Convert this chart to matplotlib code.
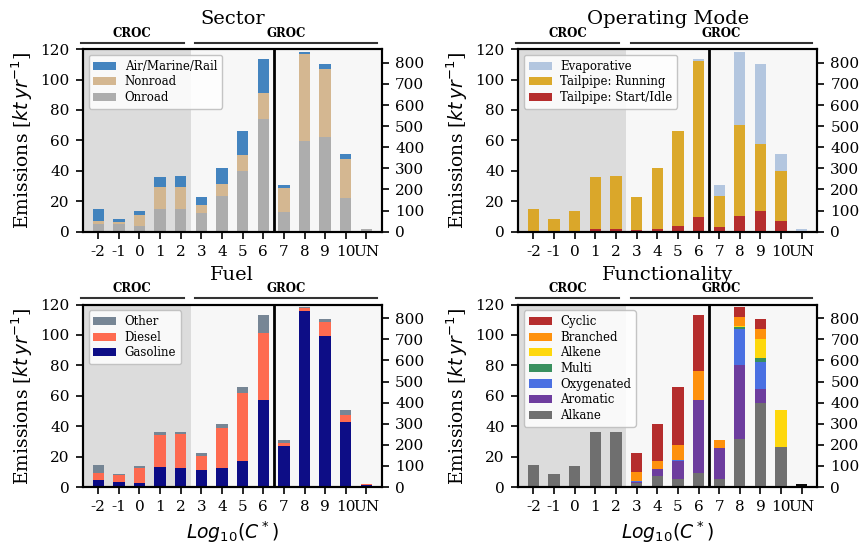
import matplotlib

matplotlib.use("Agg")

import matplotlib.pyplot as plt
import numpy as np

plt.rcParams["font.family"] = ["DejaVu Serif"]
plt.rcParams["mathtext.fontset"] = "dejavusans"

# x categories, log10(C*) bins; the first 9 go on the left axis, the rest on the right axis
tick_labels = ["-2", "-1", "0", "1", "2", "3", "4", "5", "6", "7", "8", "9", "10", "UN"]
n_left = 9

# Sector
onroad = [4.8, 5.0, 4.0, 15.1, 15.1, 12.1, 23.3, 40.1, 74.2, 92, 428, 447, 157, 10]
nonroad = [2.4, 1.1, 7.0, 14.3, 14.3, 5.7, 8.1, 10.1, 16.8, 114, 416, 323, 188, 3]
air_marine_rail = [7.5, 2.5, 2.8, 6.8, 7.0, 4.8, 10.3, 15.8, 22.2, 16, 8, 25, 22, 1]

# Operating mode
start_idle = [0.3, 0.2, 0.3, 1.5, 1.6, 1.0, 2.0, 4.0, 9.7, 24, 74, 97, 49, 0.5]
running = [14.4, 8.4, 13.5, 34.7, 34.8, 21.6, 39.7, 62.0, 102.2, 147, 433, 320, 239, 0.5]
evaporative = [0, 0, 0, 0, 0, 0, 0, 0, 1.5, 51, 345, 378, 79, 13]

# Fuel
gasoline = [4.4, 3.5, 2.6, 13.2, 12.5, 11.4, 12.7, 17.3, 57.0, 195, 833, 716, 306, 9]
diesel = [5.0, 4.2, 10.1, 21.0, 22.4, 8.8, 26.1, 44.6, 44.4, 15, 17, 67, 37, 5]
other_fuel = [5.3, 0.9, 1.1, 2.0, 1.5, 2.4, 2.9, 4.1, 11.8, 12, 2, 12, 24, 0]

# Functionality
alkane = [14.7, 8.6, 13.8, 36.2, 36.4, 2.4, 7.0, 5.5, 9.2, 36, 228, 399, 190, 0]
aromatic = [0, 0, 0, 0, 0, 1.1, 4.6, 11.8, 47.8, 148, 350, 67, 0, 0]
oxygenated = [0, 0, 0, 0, 0, 0.4, 0, 0.2, 0.3, 0, 173, 125, 0, 0]
multi = [0, 0, 0, 0, 0, 0, 0, 0, 0, 0, 9, 19, 0, 0]
alkene = [0, 0, 0, 0, 0, 0, 0, 0, 0, 0, 3, 93, 177, 0]
branched = [0, 0, 0, 0, 0, 6.0, 5.3, 9.9, 19.0, 38, 43, 45, 0, 0]
cyclic = [0, 0, 0, 0, 0, 12.7, 24.8, 38.6, 36.9, 0, 47, 47, 0, 0]
unknown = [0, 0, 0, 0, 0, 0, 0, 0, 0, 0, 0, 0, 0, 14]

panels = [
    ("Sector",
     [(onroad, "Onroad", "darkgray"),
      (nonroad, "Nonroad", "tan"),
      (air_marine_rail, "Air/Marine/Rail", "#3a7ebc")]),
    ("Operating Mode",
     [(start_idle, "Tailpipe: Start/Idle", "firebrick"),
      (running, "Tailpipe: Running", "goldenrod"),
      (evaporative, "Evaporative", "lightsteelblue")]),
    ("Fuel",
     [(gasoline, "Gasoline", "navy"),
      (diesel, "Diesel", "tomato"),
      (other_fuel, "Other", "slategray")]),
    ("Functionality",
     [(alkane, "Alkane", "dimgray"),
      (aromatic, "Aromatic", "rebeccapurple"),
      (oxygenated, "Oxygenated", "royalblue"),
      (multi, "Multi", "seagreen"),
      (alkene, "Alkene", "gold"),
      (branched, "Branched", "darkorange"),
      (cyclic, "Cyclic", "firebrick"),
      (unknown, None, "black")]),
]


def draw_panel(ax, title, series, xlabel):
    """Stacked bars, low volatility bins on the left axis and the rest on a twin axis"""
    x = np.arange(-2, -2 + len(tick_labels))
    ax2 = ax.twinx()
    ax.set_facecolor("#f7f7f7")
    ax.axvspan(-2.75, 2.5, color="#dcdcdc", zorder=0, lw=0)

    bottom = np.zeros(len(x))
    handles = []
    for values, label, color in series:
        vals = np.array(values, dtype=float)
        b1 = ax.bar(x[:n_left], vals[:n_left], 0.55, bottom=bottom[:n_left],
                    color=color, alpha=0.95, lw=0, zorder=2)
        ax2.bar(x[n_left:], vals[n_left:], 0.55, bottom=bottom[n_left:],
                color=color, alpha=0.95, lw=0, zorder=2)
        bottom += vals
        if label is not None:
            handles.append((b1, label))

    ax.axvline(6.5, color="black", lw=2, zorder=3)
    ax.set_xlim(-2.75, 11.75)
    ax.set_ylim(0, 120)
    ax.set_yticks(np.arange(0, 121, 20))
    ax2.set_ylim(0, 865)
    ax2.set_yticks(np.arange(0, 801, 100))
    ax.set_xticks(x)
    ax.set_xticklabels(tick_labels)
    for a in (ax, ax2):
        a.tick_params(labelsize=11, length=5, width=1.2, pad=4.5)
        for s in a.spines.values():
            s.set_linewidth(1.5)

    ax.set_title(title, fontsize=14, pad=18)
    ax.set_ylabel(r"Emissions [$kt\,yr^{-1}$]", fontsize=13.5)
    if xlabel:
        ax.set_xlabel(r"$Log_{10}(C^*)$", fontsize=13.5)

    h = [b for b, _ in handles][::-1]
    l = [lab for _, lab in handles][::-1]
    leg = ax.legend(h, l, loc="upper left", fontsize=8.5, framealpha=0.85,
                    handlelength=1.95, borderpad=0.4, labelspacing=0.22,
                    handletextpad=0.7)
    leg.get_frame().set_edgecolor("#bbbbbb")

    # CROC / GROC brackets above the axes
    for x0, x1, name in [(-0.006, 0.337, "CROC"), (0.376, 0.983, "GROC")]:
        ax.plot([x0, x1], [1.035, 1.035], color="#333333", lw=1.5,
                transform=ax.transAxes, clip_on=False)
        ax.text((x0 + x1) / 2, 1.05, name, transform=ax.transAxes,
                ha="center", va="bottom", fontsize=8.5, fontweight="bold")


fig, axs = plt.subplots(2, 2, figsize=(8.62, 5.46), dpi=100)
plt.subplots_adjust(left=0.096, right=0.948, top=0.91, bottom=0.108,
                    wspace=0.455, hspace=0.40)

for i, (ax, (title, series)) in enumerate(zip(axs.flatten(), panels)):
    draw_panel(ax, title, series, xlabel=i >= 2)

plt.savefig("out.png")
